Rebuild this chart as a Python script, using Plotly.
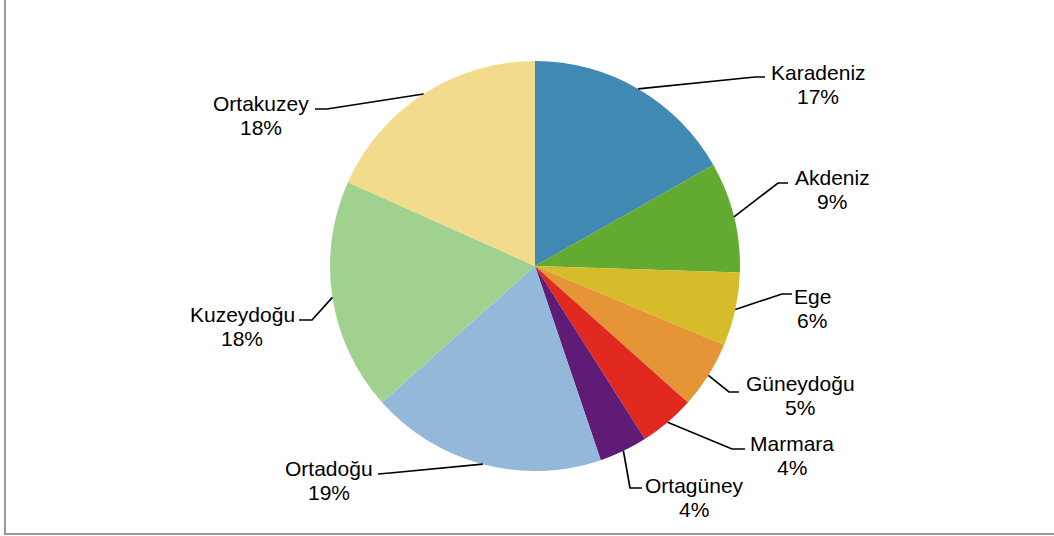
import math
import plotly.graph_objects as go

# ---- data ----
regions = ["Karadeniz", "Akdeniz", "Ege", "Güneydoğu", "Marmara",
           "Ortagüney", "Ortadoğu", "Kuzeydoğu", "Ortakuzey"]
shares = [16.8, 8.7, 5.8, 5.3, 4.4, 3.8, 18.6, 18.3, 18.3]

# ---- style / layout ----
colors = ["#3f89b3", "#62aa30", "#d6bb2b", "#e59536", "#e2291f",
          "#5f1b76", "#93b8d9", "#a1d18e", "#f2db8c"]
W, H = 1054, 536
CX, CY, R = 535, 266, 205
# label block centers and leader elbows (screen pixels)
label_xy = [(818, 84), (832, 189), (812, 308), (800, 395), (792, 455),
            (694, 497), (329, 480), (242, 326), (261, 115)]
elbow_xy = [(755, 77), (778, 183), (782, 294), (729, 392), (732, 449),
            (630, 488), (390, 473), (312, 320), (327, 109)]
end_xy = [(765, 77), (788, 183), (792, 294), (739, 392), (745, 449),
          (642, 488), (378, 474), (299, 320), (315, 109)]
LINE_GAP = 12
FONT = dict(family="Liberation Sans, Arial", size=21, color="#000")

fig = go.Figure()
fig.add_trace(go.Pie(
    labels=regions, values=shares, sort=False, direction="clockwise",
    rotation=0, textinfo="none", hoverinfo="label+percent",
    marker=dict(colors=colors, line=dict(width=0)),
    domain=dict(x=[(CX - R) / W, (CX + R) / W],
                y=[(H - CY - R) / H, (H - CY + R) / H]),
    showlegend=False,
))

total = sum(shares)
cum = 0.0
shapes = []
annotations = []
for i, (lab, v) in enumerate(zip(regions, shares)):
    mid = (cum + v / 2) / total * 2 * math.pi
    cum += v
    sx = CX + R * math.sin(mid)
    sy = CY - R * math.cos(mid)
    ex, ey = elbow_xy[i]
    fx, fy = end_xy[i]
    shapes.append(dict(type="path", xref="x", yref="y",
                       path=f"M{sx:.1f},{sy:.1f} L{ex},{ey} L{fx},{fy}",
                       line=dict(color="black", width=1.7)))
    pct = round(v / total * 100)
    lx, ly = label_xy[i]
    annotations.append(dict(x=lx, y=ly - LINE_GAP, xref="x", yref="y", showarrow=False,
                            text=lab, font=FONT))
    annotations.append(dict(x=lx, y=ly + LINE_GAP, xref="x", yref="y", showarrow=False,
                            text=f"{pct}%", font=FONT))

# outer frame (only left and bottom edges visible)
shapes.append(dict(type="rect", xref="x", yref="y", x0=5, x1=1070, y0=-10, y1=534,
                   line=dict(color="#999999", width=2), fillcolor="rgba(0,0,0,0)"))

fig.update_layout(
    width=W, height=H, margin=dict(l=0, r=0, t=0, b=0),
    paper_bgcolor="white", plot_bgcolor="rgba(0,0,0,0)",
    xaxis=dict(range=[0, W], visible=False, fixedrange=True),
    yaxis=dict(range=[H, 0], visible=False, fixedrange=True),
    shapes=shapes, annotations=annotations,
)
fig.write_html("out.html", config={"displayModeBar": False},
               post_script="document.body.style.margin='0';document.body.style.overflow='hidden';")
